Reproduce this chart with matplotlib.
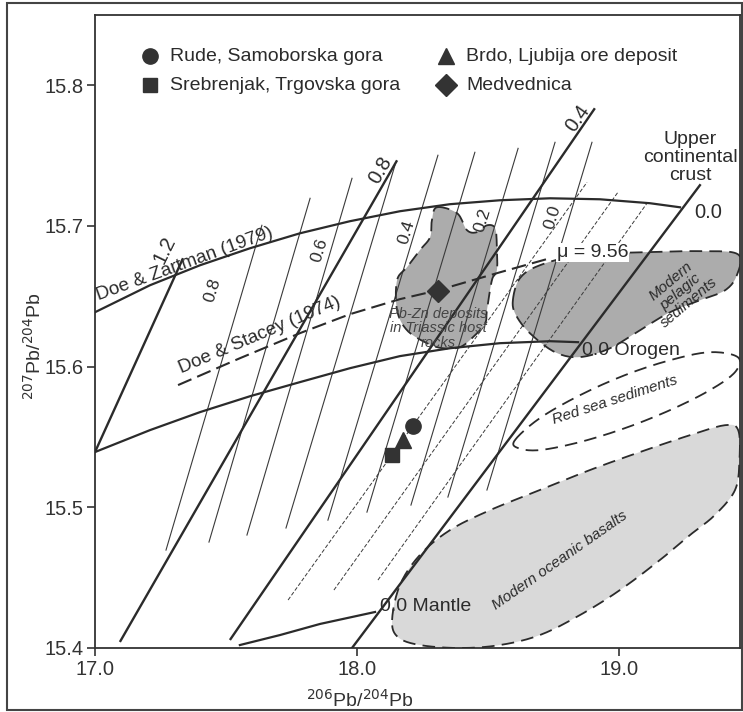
import numpy as np
import matplotlib
matplotlib.use('Agg')
import matplotlib.pyplot as plt
from matplotlib.patches import Polygon, Rectangle

plt.rcParams['font.family'] = ['Liberation Sans', 'DejaVu Sans']

INK = '#2b2b2b'

# ---------------- data ----------------
# growth curves (206Pb/204Pb, 207Pb/204Pb)
zartman_x = [17.000, 17.210, 17.401, 17.592, 17.782, 17.973, 18.164, 18.355, 18.546, 18.737, 18.927, 19.118, 19.233]
zartman_y = [15.6387, 15.6579, 15.6721, 15.6842, 15.6948, 15.7034, 15.7105, 15.7155, 15.7183, 15.7197, 15.7190, 15.7162, 15.7133]

stacey_x = [17.317, 17.553, 17.782, 17.973, 18.164, 18.309, 18.546, 18.737]
stacey_y = [15.5869, 15.6060, 15.6238, 15.6373, 15.6480, 15.6543, 15.6671, 15.6771]

orogen_x = [17.000, 17.210, 17.401, 17.592, 17.782, 17.973, 18.164, 18.355, 18.546, 18.737, 18.844]
orogen_y = [15.5393, 15.5549, 15.5677, 15.5790, 15.5890, 15.5989, 15.6075, 15.6131, 15.6167, 15.6181, 15.6174]

mantle_x = [17.553, 17.706, 17.859, 18.069]
mantle_y = [15.4021, 15.4092, 15.4171, 15.4256]

# thick isochrons: (x0, y0, x1, y1)
thick_labels = ['1.2', '0.8', '0.4']
thick_x0 = [17.000, 17.095, 17.515]
thick_y0 = [15.5393, 15.4043, 15.4057]
thick_x1 = [17.336, 18.153, 18.908]
thick_y1 = [15.6771, 15.7467, 15.7837]
thick_lab_x = [17.267, 18.088, 18.844]
thick_lab_y = [15.6828, 15.7396, 15.7766]
thick_lab_rot = [64, 60, 55]

# geochron (0.0) line
geo_x = [17.981, 19.309]
geo_y = [15.400, 15.729]

# thin solid isochrons
thin_top_x = [18.897, 18.756, 18.615, 18.450, 18.309, 18.145, 17.981, 17.821, 17.637]
thin_top_y = [15.7595, 15.7595, 15.7552, 15.7524, 15.7503, 15.7432, 15.7339, 15.7197, 15.7005]
thin_bot_x = [18.496, 18.347, 18.206, 18.038, 17.889, 17.729, 17.580, 17.435, 17.271]
thin_bot_y = [15.5123, 15.5073, 15.5016, 15.4966, 15.4909, 15.4853, 15.4803, 15.4753, 15.4696]
thin_labels = ['0.0', '0.2', '0.4', '0.6', '0.8']
thin_lab_x = [18.748, 18.481, 18.191, 17.859, 17.447]
thin_lab_y = [15.7062, 15.7041, 15.6956, 15.6828, 15.6544]

# thin dashed lines
dash_top_x = [18.878, 18.996, 19.107]
dash_top_y = [15.7311, 15.7240, 15.7162]
dash_bot_x = [17.737, 17.912, 18.080]
dash_bot_y = [15.4341, 15.4412, 15.4483]

# fields (outlines)
pbzn_x = [18.305, 18.382, 18.420, 18.458, 18.496, 18.527, 18.534, 18.534, 18.515, 18.496, 18.489, 18.443,
          18.393, 18.328, 18.267, 18.191, 18.153, 18.153, 18.191, 18.240, 18.279, 18.286]
pbzn_y = [15.7133, 15.7091, 15.6970, 15.6956, 15.7005, 15.6984, 15.6849, 15.6686, 15.6615, 15.6401, 15.6309, 15.6210,
          15.6139, 15.6131, 15.6167, 15.6259, 15.6401, 15.6615, 15.6707, 15.6828, 15.6920, 15.7041]

pelagic_x = [18.595, 18.622, 18.698, 18.851, 19.080, 19.309, 19.454, 19.450, 19.405, 19.309, 19.195, 19.080,
             18.966, 18.851, 18.756, 18.660, 18.607]
pelagic_y = [15.6472, 15.6629, 15.6721, 15.6792, 15.6813, 15.6821, 15.6799, 15.6650, 15.6543, 15.6472, 15.6387, 15.6259,
             15.6131, 15.6068, 15.6103, 15.6238, 15.6366]

redsea_x = [18.603, 18.698, 18.851, 19.023, 19.195, 19.347, 19.454, 19.443, 19.347, 19.195, 19.023, 18.851, 18.698, 18.615]
redsea_y = [15.5478, 15.5634, 15.5797, 15.5940, 15.6046, 15.6103, 15.6067, 15.5961, 15.5833, 15.5691, 15.5563, 15.5464, 15.5407, 15.5421]

basalt_x = [18.134, 18.164, 18.240, 18.355, 18.508, 18.698, 18.889, 19.080, 19.271, 19.405, 19.455, 19.460, 19.443,
            19.366, 19.271, 19.156, 19.004, 18.851, 18.698, 18.546, 18.393, 18.240, 18.156]
basalt_y = [15.4199, 15.4448, 15.4661, 15.4838, 15.4980, 15.5123, 15.5265, 15.5393, 15.5513, 15.5584, 15.5549, 15.5336, 15.5123,
            15.4945, 15.4803, 15.4625, 15.4412, 15.4234, 15.4092, 15.4021, 15.4000, 15.4021, 15.4078]

# samples
sample_names = ['Rude, Samoborska gora', 'Srebrenjak, Trgovska gora', 'Brdo, Ljubija ore deposit', 'Medvednica']
sample_markers = ['o', 's', '^', 'D']
sample_sizes = [11, 10, 12, 11]
sample_x = [18.214, 18.134, 18.176, 18.309]
sample_y = [15.558, 15.537, 15.548, 15.654]


def smooth_closed(xs, ys, n=12):
    p = np.column_stack([xs, ys])
    m = len(p)
    out = []
    for i in range(m):
        p0, p1, p2, p3 = p[(i - 1) % m], p[i], p[(i + 1) % m], p[(i + 2) % m]
        for t in np.linspace(0, 1, n, endpoint=False):
            t2, t3 = t * t, t * t * t
            out.append(0.5 * ((2 * p1) + (-p0 + p2) * t + (2 * p0 - 5 * p1 + 4 * p2 - p3) * t2
                              + (-p0 + 3 * p1 - 3 * p2 + p3) * t3))
    out.append(out[0])
    return np.array(out)


fig = plt.figure(figsize=(7.43, 7.12), dpi=100)
ax = fig.add_axes([95 / 743, 64 / 712, 645 / 743, 633 / 712])
ax.set_xlim(17.0, 19.462)
ax.set_ylim(15.4, 15.85)

# fields
for xs, ys, fc in [(basalt_x, basalt_y, '#d9d9d9'), (pelagic_x, pelagic_y, '#acacac'),
                   (pbzn_x, pbzn_y, '#acacac'), (redsea_x, redsea_y, 'white')]:
    pts = smooth_closed(xs, ys)
    ax.add_patch(Polygon(pts, closed=True, facecolor=fc, edgecolor='none', zorder=1))
    ax.plot(pts[:, 0], pts[:, 1], color=INK, lw=1.3, dashes=(7, 4), zorder=4)

# thin solid isochrons
for x0, y0, x1, y1 in zip(thin_bot_x, thin_bot_y, thin_top_x, thin_top_y):
    ax.plot([x0, x1], [y0, y1], color='#3a3a3a', lw=0.8, zorder=2)
for t, x, y in zip(thin_labels, thin_lab_x, thin_lab_y):
    ax.text(x, y, t, rotation=73, ha='center', va='center', fontsize=12.5, color=INK, zorder=5)

# thin dashed
for x0, y0, x1, y1 in zip(dash_bot_x, dash_bot_y, dash_top_x, dash_top_y):
    ax.plot([x0, x1], [y0, y1], color='#3a3a3a', lw=0.7, dashes=(4, 2), zorder=2)

# thick isochrons
for x0, y0, x1, y1 in zip(thick_x0, thick_y0, thick_x1, thick_y1):
    ax.plot([x0, x1], [y0, y1], color=INK, lw=1.7, zorder=3, solid_capstyle='butt')
for t, x, y, r in zip(thick_labels, thick_lab_x, thick_lab_y, thick_lab_rot):
    ax.text(x, y, t, rotation=r, ha='center', va='center', fontsize=14.5, color=INK, zorder=5)

ax.plot(geo_x, geo_y, color=INK, lw=1.7, zorder=3)

# growth curves
ax.plot(zartman_x, zartman_y, color=INK, lw=1.6, zorder=3)
ax.plot(stacey_x, stacey_y, color=INK, lw=1.5, dashes=(7, 3), zorder=3)
ax.plot(orogen_x, orogen_y, color=INK, lw=1.6, zorder=3)
ax.plot(mantle_x, mantle_y, color=INK, lw=1.6, zorder=3)

# curve labels
ax.text(17.02, 15.6445, 'Doe & Zartman (1979)', rotation=20, rotation_mode='anchor',
        ha='left', va='bottom', fontsize=13.5, color=INK, zorder=5)
ax.text(17.336, 15.5925, 'Doe & Stacey (1974)', rotation=23, rotation_mode='anchor',
        ha='left', va='bottom', fontsize=13.5, color=INK, zorder=5)
ax.text(18.763, 15.6813, '\u03bc = 9.56', ha='left', va='center', fontsize=14, color=INK, zorder=5,
        bbox=dict(facecolor='white', edgecolor='none', pad=0.5))
ax.text(18.859, 15.6117, '0.0 Orogen', ha='left', va='center', fontsize=14, color=INK, zorder=5)
ax.text(18.088, 15.4298, '0.0 Mantle', ha='left', va='center', fontsize=14, color=INK, zorder=5)
ax.text(19.271, 15.7488, 'Upper\ncontinental\ncrust', ha='center', va='center', fontsize=14,
        linespacing=1.1, color=INK, zorder=5)
ax.text(19.340, 15.7098, '0.0', ha='center', va='center', fontsize=14.5, color=INK, zorder=5)

# field labels
ax.text(18.311, 15.6274, 'Pb-Zn deposits\nin Triassic host\nrocks', ha='center', va='center', fontsize=10.5,
        style='italic', color='#444444', linespacing=1.05, zorder=5)
ax.text(19.233, 15.6529, 'Modern\npelagic\nsediments', ha='center', va='center', fontsize=11, rotation=40,
        style='italic', color=INK, linespacing=1.0, zorder=5)
ax.text(18.985, 15.5762, 'Red sea sediments', ha='center', va='center', fontsize=11, rotation=18,
        style='italic', color=INK, zorder=5)
ax.text(18.775, 15.4625, 'Modern oceanic basalts', ha='center', va='center', fontsize=11, rotation=35,
        style='italic', color=INK, zorder=5)

# samples
for m, s, x, y in zip(sample_markers, sample_sizes, sample_x, sample_y):
    ax.plot(x, y, marker=m, ms=s, color='#333333', mec='#333333', ls='none', zorder=6)

# legend (text-style key at the top)
leg_mx = [17.21, 17.21, 18.34, 18.34]
leg_y = [15.8206, 15.8000, 15.8206, 15.8000]
for m, s, x, y, name in zip(sample_markers, [11, 10, 12, 11], leg_mx, leg_y, sample_names):
    ax.plot(x, y, marker=m, ms=s, color='#333333', ls='none', zorder=6, clip_on=False)
    ax.text(x + 0.076, y, name, ha='left', va='center', fontsize=14, color=INK, zorder=6)

# axes styling
ax.set_xticks([17.0, 18.0, 19.0])
ax.set_xticklabels(['17.0', '18.0', '19.0'])
ax.set_yticks([15.4, 15.5, 15.6, 15.7, 15.8])
ax.set_yticklabels(['15.4', '15.5', '15.6', '15.7', '15.8'])
ax.tick_params(direction='out', length=5.5, width=1.2, labelsize=14.5, colors='#333333', pad=3)
for sp in ax.spines.values():
    sp.set_color('#333333')
    sp.set_linewidth(1.3)
ax.set_xlabel(r'$^{206}$Pb/$^{204}$Pb', fontsize=14, color='#333333', labelpad=6)
ax.xaxis.set_label_coords(0.411, -0.065)
ax.set_ylabel(r'$^{207}$Pb/$^{204}$Pb', fontsize=14, color='#333333', labelpad=4)
ax.yaxis.set_label_coords(-0.078, 0.477)

# outer frame of the figure
fig.patches.append(Rectangle((7 / 743, 2 / 712), 735 / 743, 707 / 712, transform=fig.transFigure,
                             fill=False, edgecolor='#444444', lw=1.5))

fig.savefig('out.png', dpi=100)
